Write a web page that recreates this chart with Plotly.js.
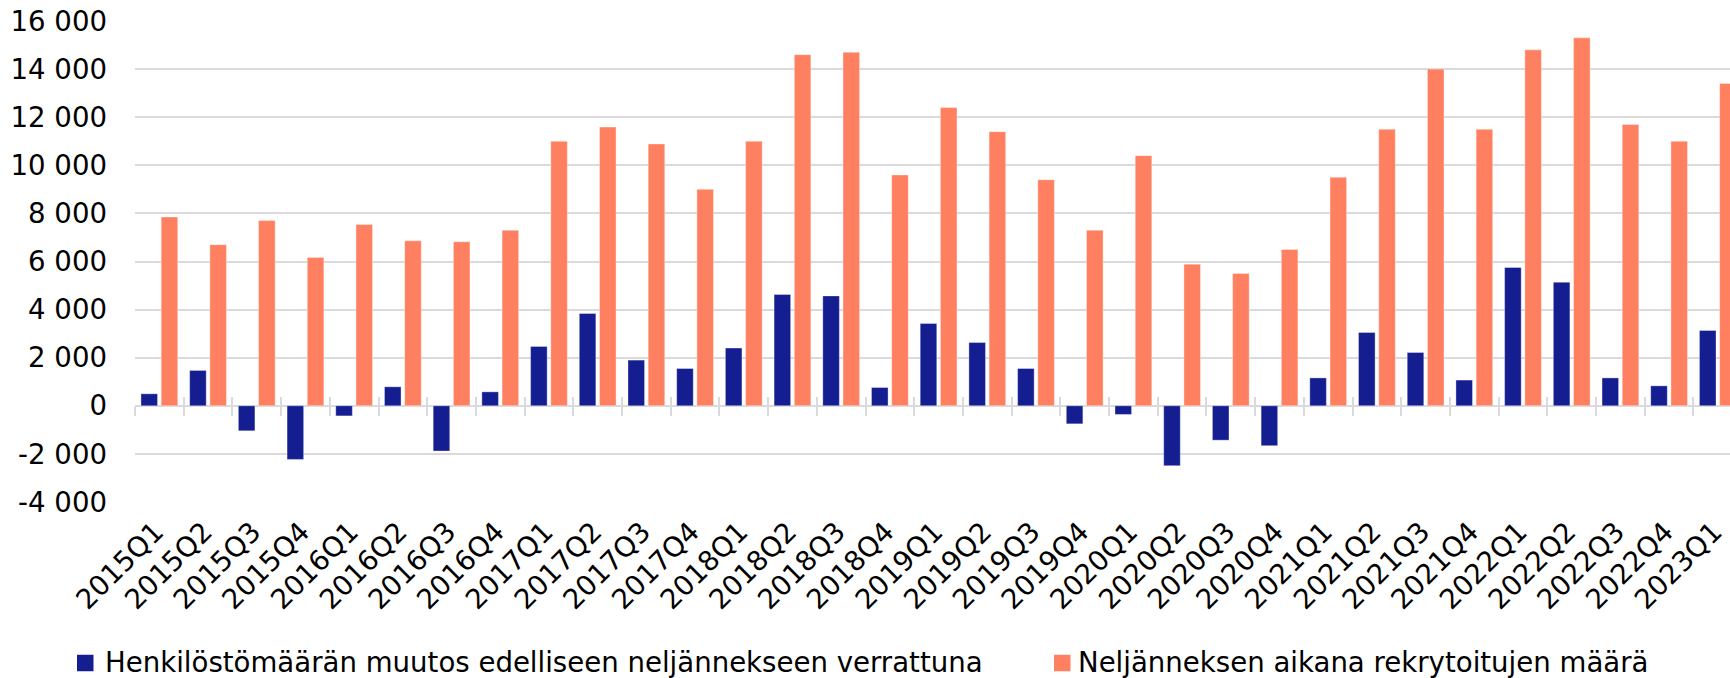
<!DOCTYPE html>
<html>
<head>
<meta charset="utf-8">
<script src="https://cdn.plot.ly/plotly-3.0.1.min.js"></script>
<style>
  html, body { margin: 0; padding: 0; background: #ffffff; }
  #chart { width: 1730px; height: 678px; }
</style>
</head>
<body>
<div id="chart"></div>
<script>
// ---- Data ----
const quarters = [
  "2015Q1","2015Q2","2015Q3","2015Q4",
  "2016Q1","2016Q2","2016Q3","2016Q4",
  "2017Q1","2017Q2","2017Q3","2017Q4",
  "2018Q1","2018Q2","2018Q3","2018Q4",
  "2019Q1","2019Q2","2019Q3","2019Q4",
  "2020Q1","2020Q2","2020Q3","2020Q4",
  "2021Q1","2021Q2","2021Q3","2021Q4",
  "2022Q1","2022Q2","2022Q3","2022Q4",
  "2023Q1"
];
const staffChange = [
  500, 1470, -1040, -2230,
  -420, 790, -1880, 580,
  2470, 3840, 1900, 1550,
  2400, 4630, 4570, 760,
  3420, 2630, 1550, -750,
  -360, -2490, -1430, -1660,
  1160, 3050, 2220, 1070,
  5750, 5140, 1160, 830,
  3130
];
const recruited = [
  7850, 6700, 7700, 6170,
  7540, 6860, 6820, 7300,
  11000, 11590, 10890, 9000,
  11000, 14600, 14700, 9600,
  12400, 11400, 9400, 7300,
  10400, 5890, 5500, 6500,
  9500, 11500, 14000, 11500,
  14800, 15300, 11700, 11000,
  13400
];
const seriesNames = [
  "Henkilöstömäärän muutos edelliseen neljännekseen verrattuna",
  "Neljänneksen aikana rekrytoitujen määrä"
];
const yTickVals = [-4000, -2000, 0, 2000, 4000, 6000, 8000, 10000, 12000, 14000, 16000];
const yTickLabels = ["-4 000", "-2 000", "0", "2 000", "4 000", "6 000", "8 000", "10 000", "12 000", "14 000", "16 000"];

// ---- Styling ----
const FONT = "DejaVu Sans, Verdana, sans-serif";
const FS = 27.6;
const BLUE = "#141e91";
const ORANGE = "#ff8060";
const GRID = "#dadade";
const yRange = [-4000, 16000];
const xRange = [-0.5, 32.25];
const zeroPos = (0 - yRange[0]) / (yRange[1] - yRange[0]);
const colors = [BLUE, ORANGE];

// Page geometry (px) used to place the legend below the plot
const W = 1730, H = 678;
const M = { l: 135, r: 0, t: 21, b: 176 };
const plotW = W - M.l - M.r, plotH = H - M.t - M.b;
const px2x = (px) => (px - M.l) / plotW;
const px2y = (py) => (H - M.b - py) / plotH;
const legendItems = [
  { sq: 77, text: 103 },
  { sq: 1054, text: 1076 }
];
const legSq = 16.5, legCy = 662;

const traces = [
  {
    type: "bar", name: seriesNames[0], x: quarters, y: staffChange,
    marker: { color: BLUE, line: { color: "rgba(255,255,255,0.45)", width: 0.8 } },
    hoverinfo: "x+y"
  },
  {
    type: "bar", name: seriesNames[1], x: quarters, y: recruited,
    marker: { color: ORANGE, line: { color: "rgba(255,255,255,0.45)", width: 0.8 } },
    hoverinfo: "x+y"
  },
  // helper traces so the tick marks crossing the zero line are drawn
  { type: "scatter", mode: "markers", x: quarters, y: quarters.map(() => null), xaxis: "x2", showlegend: false, hoverinfo: "skip" },
  { type: "scatter", mode: "markers", x: quarters, y: quarters.map(() => null), xaxis: "x3", showlegend: false, hoverinfo: "skip" }
];

const tickAxis = (dir) => ({
  type: "category", categoryorder: "array", categoryarray: quarters,
  overlaying: "x", anchor: "free", position: zeroPos, side: "bottom",
  range: xRange, showgrid: false, zeroline: false, showline: false,
  showticklabels: false, ticks: dir, ticklen: 9, tickwidth: 2, tickcolor: GRID,
  tickson: "boundaries", fixedrange: true
});

const shapes = legendItems.map((it, i) => ({
  type: "rect", xref: "paper", yref: "paper",
  x0: px2x(it.sq), x1: px2x(it.sq + legSq),
  y0: px2y(legCy + 1 + legSq / 2), y1: px2y(legCy + 1 - legSq / 2),
  fillcolor: colors[i], line: { width: 0 }
}));
const annotations = legendItems.map((it, i) => ({
  xref: "paper", yref: "paper", x: px2x(it.text), y: px2y(legCy),
  xanchor: "left", yanchor: "middle", showarrow: false,
  text: seriesNames[i], font: { family: FONT, size: FS, color: "#000" }
}));

const layout = {
  width: W, height: H,
  margin: { l: M.l, r: M.r, t: M.t, b: M.b, pad: 0, autoexpand: false },
  paper_bgcolor: "#ffffff", plot_bgcolor: "#ffffff",
  font: { family: FONT, size: FS, color: "#000000" },
  barmode: "group", bargap: 0.17, bargroupgap: 0.18,
  showlegend: false,
  xaxis: {
    type: "category", categoryorder: "array", categoryarray: quarters,
    range: xRange, showgrid: false, zeroline: false, showline: false,
    ticks: "", tickangle: -45, tickfont: { family: FONT, size: FS, color: "#000" },
    ticklabelstandoff: 7, ticklabelshift: -4, fixedrange: true
  },
  xaxis2: tickAxis("outside"),
  xaxis3: tickAxis("inside"),
  yaxis: {
    range: yRange, tickvals: yTickVals, ticktext: yTickLabels,
    showgrid: true, gridcolor: GRID, gridwidth: 2,
    zeroline: true, zerolinecolor: GRID, zerolinewidth: 2.5,
    showline: false, ticks: "", ticklabelstandoff: 27,
    tickfont: { family: FONT, size: FS, color: "#000" }, fixedrange: true
  },
  shapes: shapes,
  annotations: annotations
};

Plotly.newPlot("chart", traces, layout, { displayModeBar: false, staticPlot: true });
</script>
</body>
</html>
